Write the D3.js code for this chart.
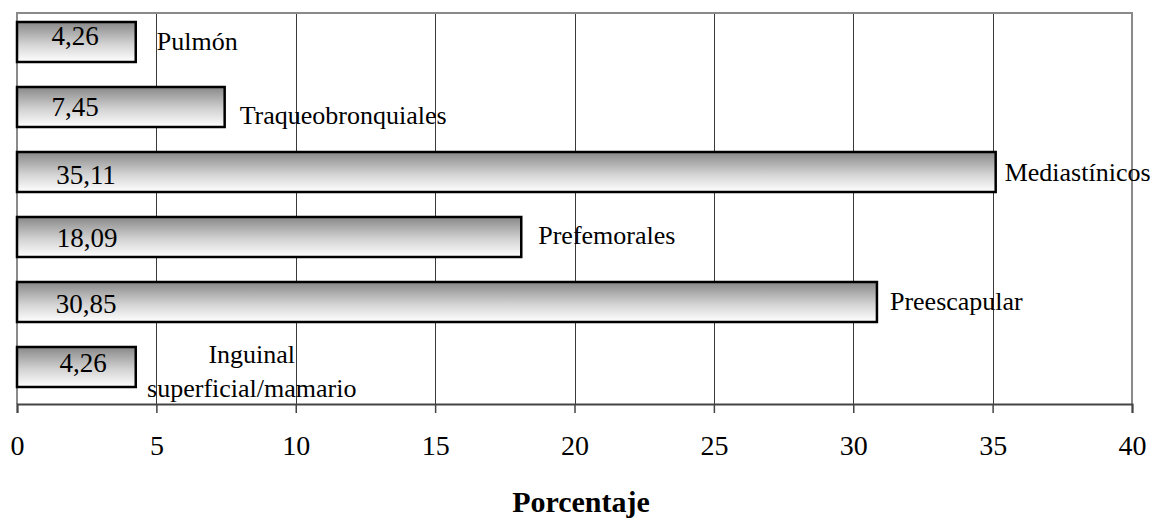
<!DOCTYPE html>
<html>
<head>
<meta charset="utf-8">
<script src="https://cdn.jsdelivr.net/npm/d3@7"></script>
<style>
  body { margin: 0; background: #fff; }
  svg text { font-family: "Times New Roman", "Liberation Serif", Times, serif; fill: #000; }
</style>
</head>
<body>
<div id="chart"></div>
<script>
// ---- data ----
const categories = ["Pulmón", "Traqueobronquiales", "Mediastínicos", "Prefemorales", "Preescapular", "Inguinal superficial/mamario"];
const categoryLines = [["Pulmón"], ["Traqueobronquiales"], ["Mediastínicos"], ["Prefemorales"], ["Preescapular"], ["Inguinal", "superficial/mamario"]];
const values = [4.26, 7.45, 35.11, 18.09, 30.85, 4.26];
const xTicks = [0, 5, 10, 15, 20, 25, 30, 35, 40];
const axisTitle = "Porcentaje";

// label placement nudges (Excel drops the labels a bit irregularly)
const nameNudge = [[21, 8], [15, 17], [9, 9], [17, 7], [13, 8], [116, -4]];
const valueNudge = [[58, 3], [58, 9], [69, 12], [70, 10], [69, 11], [66, 5]];

const W = 1157, H = 520;
const plot = { left: 17, right: 1132, top: 13, bottom: 404 };
const serif = '"Times New Roman", "Liberation Serif", Times, serif';

const es = d3.formatLocale({ decimal: ",", thousands: ".", grouping: [3], currency: ["", "€"] });
const fmt = es.format(".2f");

const svg = d3.select("#chart").append("svg").attr("width", W).attr("height", H);

const defs = svg.append("defs");
const grad = defs.append("linearGradient").attr("id", "barGrad")
  .attr("x1", 0).attr("y1", 0).attr("x2", 0).attr("y2", 1);
grad.append("stop").attr("offset", "0%").attr("stop-color", "#888888");
grad.append("stop").attr("offset", "55%").attr("stop-color", "#d2d2d2");
grad.append("stop").attr("offset", "100%").attr("stop-color", "#ffffff");

const x = d3.scaleLinear().domain([0, 40]).range([plot.left, plot.right]);
const y = d3.scaleBand().domain(categories).range([plot.top, 396])
  .paddingInner(0.3846).paddingOuter(0.1385);
const crisp = v => Math.round(v) + 0.5;

// gridlines
svg.append("g").selectAll("line").data(xTicks.filter(t => t > 0 && t < 40)).join("line")
  .attr("x1", d => crisp(x(d))).attr("x2", d => crisp(x(d)))
  .attr("y1", plot.top).attr("y2", plot.bottom)
  .attr("stroke", "#3a3a3a").attr("stroke-width", 1);

// frame (top, left, right)
svg.append("path")
  .attr("d", `M${plot.left},${plot.bottom}V${plot.top}H${plot.right}V${plot.bottom}`)
  .attr("fill", "none").attr("stroke", "#8a8a8a").attr("stroke-width", 2);

// bottom axis
const axis = svg.append("g").attr("transform", `translate(0,${plot.bottom})`)
  .call(d3.axisBottom(x).tickValues(xTicks).tickSize(9).tickPadding(22).tickFormat(d3.format("d")));
axis.attr("font-family", serif);
axis.select(".domain").attr("stroke", "#444").attr("stroke-width", 2);
axis.selectAll(".tick line").attr("stroke", "#444").attr("stroke-width", 1.5);
axis.selectAll(".tick text").attr("font-size", 28).attr("fill", "#000");

// bars
svg.append("g").selectAll("rect").data(values).join("rect")
  .attr("x", x(0))
  .attr("y", (d, i) => y(categories[i]))
  .attr("width", d => x(d) - x(0))
  .attr("height", y.bandwidth())
  .attr("fill", "url(#barGrad)")
  .attr("stroke", "#000").attr("stroke-width", 2.5);

// value labels
svg.append("g").attr("font-family", serif).selectAll("text").data(values).join("text")
  .attr("x", (d, i) => x(0) + valueNudge[i][0])
  .attr("y", (d, i) => y(categories[i]) + y.bandwidth() / 2 + valueNudge[i][1])
  .attr("text-anchor", "middle")
  .attr("font-size", 27)
  .text(d => fmt(d));

// category labels
const names = svg.append("g").attr("font-family", serif).selectAll("text").data(values).join("text")
  .attr("font-size", 26)
  .attr("text-anchor", (d, i) => categoryLines[i].length > 1 ? "middle" : "start")
  .attr("x", (d, i) => x(d) + nameNudge[i][0])
  .attr("y", (d, i) => y(categories[i]) + y.bandwidth() / 2 + nameNudge[i][1]);
names.each(function(d, i) {
  const t = d3.select(this);
  const xx = +t.attr("x");
  categoryLines[i].forEach((ln, k) => {
    t.append("tspan").attr("x", xx).attr("dy", k === 0 ? 0 : 34).text(ln);
  });
});

// axis title
svg.append("text")
  .attr("x", 581).attr("y", 512)
  .attr("text-anchor", "middle")
  .attr("font-size", 30).attr("font-weight", "bold")
  .text(axisTitle);
</script>
</body>
</html>
